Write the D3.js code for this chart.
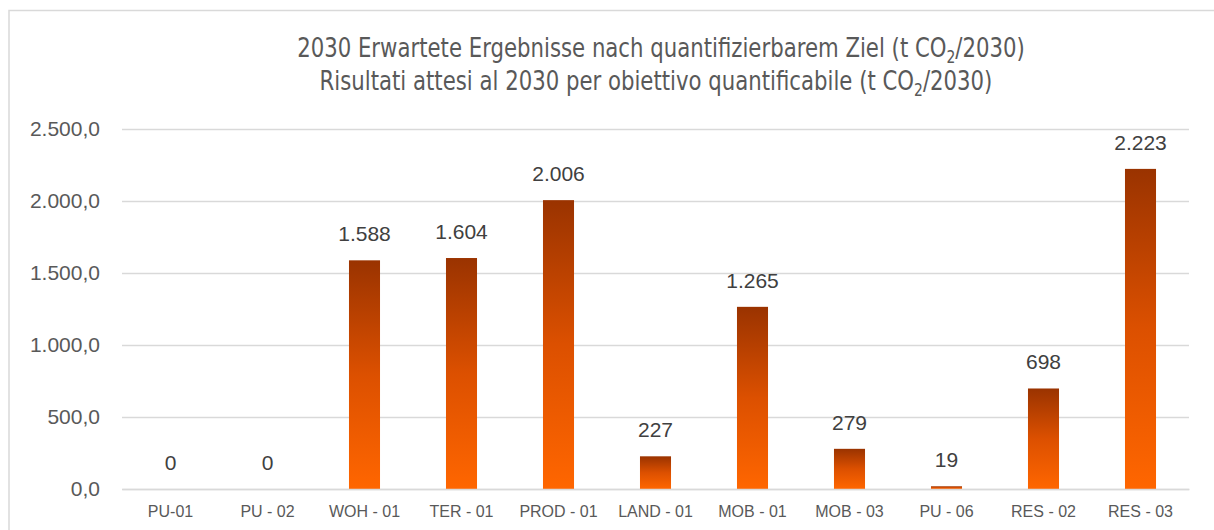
<!DOCTYPE html>
<html>
<head>
<meta charset="utf-8">
<script src="https://cdn.jsdelivr.net/npm/d3@7"></script>
<style>
  body { margin: 0; background: #fff; }
  svg { display: block; }
</style>
</head>
<body>
<div id="chart"></div>
<script>
// categories and values (t CO2 / 2030)
var categories = ["PU-01", "PU - 02", "WOH - 01", "TER - 01", "PROD - 01", "LAND - 01",
                  "MOB - 01", "MOB - 03", "PU - 06", "RES - 02", "RES - 03"];
var values = [0, 0, 1588, 1604, 2006, 227, 1265, 279, 19, 698, 2223];
var yTicks = [0, 500, 1000, 1500, 2000, 2500];
var titleLine1 = "2030 Erwartete Ergebnisse nach quantifizierbarem Ziel (t CO";
var titleLine2 = "Risultati attesi al 2030 per obiettivo quantificabile (t CO";
var titleTail = "/2030)";

var width = 1214, height = 530;
var margin = {top: 129, right: 25, bottom: 41, left: 122};
var innerWidth = width - margin.left - margin.right;
var innerHeight = height - margin.top - margin.bottom;

var de = d3.formatLocale({decimal: ",", thousands: ".", grouping: [3], currency: ["", " €"]});
var fmtTick = de.format(",.1f");
var fmtLabel = de.format(",.0f");

var svg = d3.select("#chart").append("svg")
    .attr("width", width)
    .attr("height", height);

// frame of the chart area: only left and top edges are visible
svg.append("path")
    .attr("d", "M9," + height + "V10.5H" + width)
    .attr("fill", "none")
    .attr("stroke", "#d9d9d9")
    .attr("stroke-width", 1.5);

var defs = svg.append("defs");
var grad = defs.append("linearGradient")
    .attr("id", "barGrad")
    .attr("x1", 0).attr("y1", 0).attr("x2", 0).attr("y2", 1);
grad.append("stop").attr("offset", "0%").attr("stop-color", "#9a3300");
grad.append("stop").attr("offset", "50%").attr("stop-color", "#dc5000");
grad.append("stop").attr("offset", "100%").attr("stop-color", "#ff6600");

// title, two lines, squeezed horizontally to look like a narrow font
var titleW = 728;
var lines = [{text: titleLine1, y: 57, cx: 661}, {text: titleLine2, y: 90, cx: 656}];
var tScale = 1;
lines.forEach(function(l, i) {
  var tg = svg.append("g").attr("class", "title-line");
  var t = tg.append("text")
      .attr("x", 0).attr("y", 0)
      .attr("text-anchor", "middle")
      .attr("fill", "#595959")
      .style("font-family", "'DejaVu Sans', sans-serif")
      .style("font-size", "26px");
  t.append("tspan").text(l.text);
  t.append("tspan").attr("dy", 6).style("font-size", "17px").text("2");
  t.append("tspan").attr("dy", -6).text(titleTail);
  if (i === 0) tScale = titleW / t.node().getComputedTextLength();
  tg.attr("transform", "translate(" + l.cx + "," + l.y + ") scale(" + tScale + ",1)");
});

var g = svg.append("g")
    .attr("transform", "translate(" + margin.left + "," + margin.top + ")");

var x = d3.scaleBand()
    .domain(categories)
    .range([0, innerWidth])
    .paddingInner(0.68)
    .paddingOuter(0.34);

var y = d3.scaleLinear()
    .domain([0, 2500])
    .range([innerHeight, 0]);

// gridlines
g.append("g")
    .attr("class", "grid")
    .selectAll("line")
    .data(yTicks)
    .enter().append("line")
    .attr("x1", 0).attr("x2", innerWidth)
    .attr("y1", function(d) { return y(d) + 0.5; })
    .attr("y2", function(d) { return y(d) + 0.5; })
    .attr("stroke", "#d9d9d9")
    .attr("stroke-width", 1.3);

// y axis labels
var yAxis = g.append("g")
    .call(d3.axisLeft(y).tickValues(yTicks).tickFormat(fmtTick).tickSize(0).tickPadding(22));
yAxis.select(".domain").remove();
yAxis.selectAll("text")
    .attr("fill", "#595959")
    .style("font-family", "'Liberation Sans', Arial, sans-serif")
    .style("font-size", "21px");

// bars
g.selectAll(".bar")
    .data(values)
    .enter().append("rect")
    .attr("class", "bar")
    .attr("x", function(d, i) { return x(categories[i]); })
    .attr("y", function(d) { return y(d); })
    .attr("width", x.bandwidth())
    .attr("height", function(d) { return innerHeight - y(d); })
    .attr("fill", "url(#barGrad)");

// data labels
g.selectAll(".label")
    .data(values)
    .enter().append("text")
    .attr("class", "label")
    .attr("x", function(d, i) { return x(categories[i]) + x.bandwidth() / 2; })
    .attr("y", function(d) { return y(d) - 19; })
    .attr("text-anchor", "middle")
    .attr("fill", "#404040")
    .style("font-family", "'Liberation Sans', Arial, sans-serif")
    .style("font-size", "21px")
    .text(function(d) { return fmtLabel(d); });

// x axis
var xAxis = g.append("g")
    .attr("transform", "translate(0," + innerHeight + ")")
    .call(d3.axisBottom(x).tickSize(0).tickPadding(17));
xAxis.select(".domain")
    .attr("stroke", "#d9d9d9")
    .attr("stroke-width", 1.3);
xAxis.selectAll("text")
    .attr("fill", "#595959")
    .style("font-family", "'Liberation Sans', Arial, sans-serif")
    .style("font-size", "16px");
</script>
</body>
</html>
